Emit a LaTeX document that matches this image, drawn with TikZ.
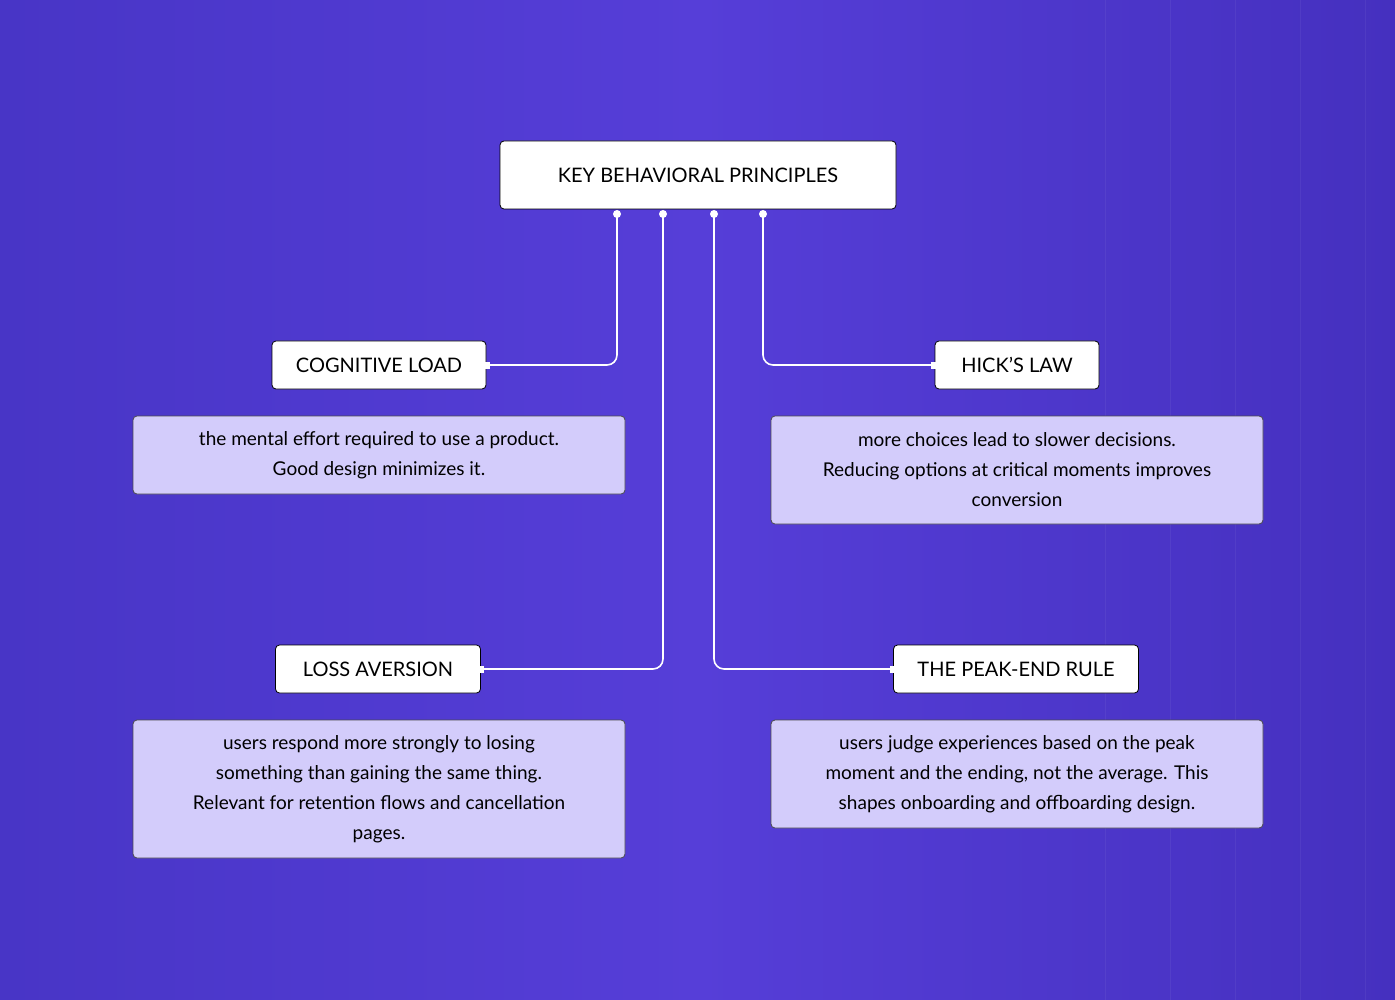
\documentclass[tikz,border=0pt]{standalone}
\usepackage{fontspec}
\setmainfont{Lato}
\begin{document}
\begin{tikzpicture}[x=1pt,y=-1pt,
 head/.style={draw=black,fill=white,rounded corners=4,line width=0.8,font=\fontsize{20}{24}\selectfont,text=black},
 desc/.style={draw=black!70,fill=descc,rounded corners=4,line width=0.8,font=\fontsize{19}{30}\selectfont,text=black,align=center},
 link/.style={draw=white,line width=1.6,rounded corners=10},
 dot/.style={fill=white,circle,inner sep=0,minimum size=8},
 sq/.style={fill=white,inner sep=0,minimum size=7}]
\definecolor{descc}{HTML}{D3CCFB}
\definecolor{bgl}{HTML}{4835C6}
\definecolor{bgm}{HTML}{563ED8}
\definecolor{bgr}{HTML}{4530BF}
\useasboundingbox (0,0) rectangle (1395,1000);
\shade[left color=bgl,right color=bgr,middle color=bgm] (0,0) rectangle (1395,1000);
\path[draw=white,opacity=0.05,line width=0.6] (1100,0) grid[step=65] (1395,1000);
\node[head,minimum width=396,minimum height=68] (t) at (698,175) {KEY BEHAVIORAL PRINCIPLES};
\node[head,minimum width=214,minimum height=48] (c) at (379,365) {COGNITIVE LOAD};
\node[head,minimum width=164,minimum height=48] (h) at (1017,365) {HICK'S LAW};
\node[head,minimum width=205,minimum height=48] (l) at (378,669) {LOSS AVERSION};
\node[head,minimum width=245,minimum height=48] (p) at (1016,669) {THE PEAK-END RULE};
\node[desc,minimum width=492,minimum height=78] (cd) at (379,455) {the mental effort required to use a product.\\Good design minimizes it.};
\node[desc,minimum width=492,minimum height=108] (hd) at (1017,470) {more choices lead to slower decisions.\\Reducing options at critical moments improves\\conversion};
\node[desc,minimum width=492,minimum height=138] (ld) at (379,789) {users respond more strongly to losing\\something than gaining the same thing.\\Relevant for retention flows and cancellation\\pages.};
\node[desc,minimum width=492,minimum height=108] (pd) at (1017,774) {users judge experiences based on the peak\\moment and the ending, not the average. This\\shapes onboarding and offboarding design.};
\coordinate (a1) at (617,214); \coordinate (a2) at (663,214);
\coordinate (a3) at (714,214); \coordinate (a4) at (763,214);
\draw[link] (a1) |- (c.east);
\draw[link] (a2) |- (l.east);
\draw[link] (a3) |- (p.west);
\draw[link] (a4) |- (h.west);
\foreach \a in {a1,a2,a3,a4} \node[dot] at (\a) {};
\node[sq] at (c.east) {}; \node[sq] at (l.east) {};
\node[sq] at (h.west) {}; \node[sq] at (p.west) {};
\end{tikzpicture}
\end{document}
